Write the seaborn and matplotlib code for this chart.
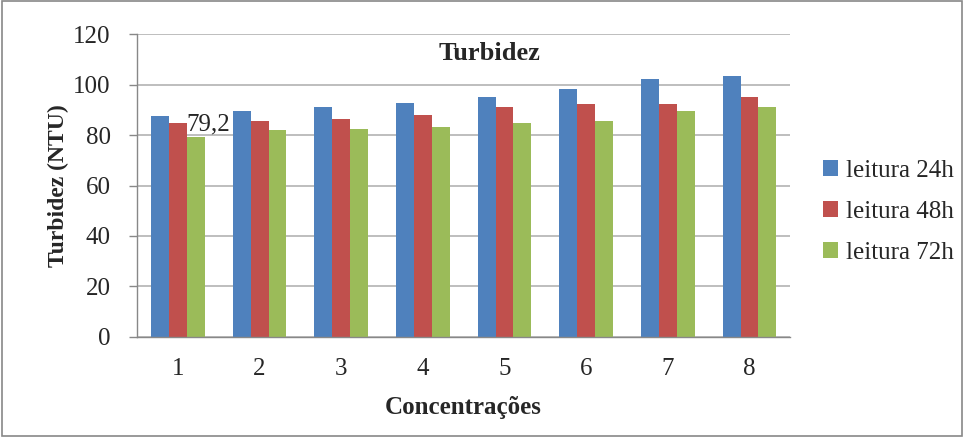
import numpy as np
import pandas as pd
import matplotlib
matplotlib.use('Agg')
import matplotlib.pyplot as plt
import seaborn as sns
from matplotlib.patches import Rectangle

# --- Data ---
concentracoes = ['1', '2', '3', '4', '5', '6', '7', '8']
leitura_24h = [87.5, 89.5, 91.2, 92.7, 95.0, 98.2, 102.1, 103.4]
leitura_48h = [84.7, 85.5, 86.3, 87.8, 91.0, 92.3, 92.3, 95.0]
leitura_72h = [79.2, 82.0, 82.3, 83.0, 84.6, 85.4, 89.4, 91.0]
series_names = ['leitura 24h', 'leitura 48h', 'leitura 72h']
colors = ['#4F81BD', '#C0504D', '#9BBB59']

df = pd.DataFrame({
    'Concentrações': concentracoes * 3,
    'valor': leitura_24h + leitura_48h + leitura_72h,
    'serie': [s for s in series_names for _ in concentracoes],
})

sns.set_style('white')
plt.rcParams['font.family'] = ['Liberation Serif', 'DejaVu Serif']

fig = plt.figure(figsize=(9.65, 4.37), dpi=100)
ax = fig.add_axes([0.142, 0.229, 0.677, 0.693])

sns.barplot(data=df, x='Concentrações', y='valor', hue='serie',
            palette=colors, width=0.66, saturation=1, linewidth=0,
            ax=ax, legend=True)

ax.set_ylim(0, 120)
ax.set_xlim(-0.5, len(concentracoes) - 0.5)
ax.set_yticks(np.arange(0, 121, 20))
ax.yaxis.grid(True, color='#b3b3b3', linewidth=1.2)
ax.set_axisbelow(True)

# ticks: labels centred, tick marks on category edges
ax.tick_params(axis='x', which='major', length=0, labelsize=18, pad=15)
ax.set_xticks(np.arange(-0.5, len(concentracoes)), minor=True)
ax.tick_params(axis='x', which='minor', length=6, color='#888888', width=1)
ax.tick_params(axis='y', which='major', length=6, color='#888888', width=1,
               labelsize=18, pad=13, left=True)

for side in ['top', 'right']:
    ax.spines[side].set_visible(False)
for side in ['left', 'bottom']:
    ax.spines[side].set_color('#888888')
    ax.spines[side].set_linewidth(1)

ax.set_xlabel('Concentrações', fontsize=18, fontweight='bold', labelpad=12)
ax.set_ylabel('Turbidez (NTU)', fontsize=17, fontweight='bold', labelpad=3)
ax.text(0.54, 0.935, 'Turbidez', transform=ax.transAxes, ha='center', va='center',
        fontsize=19, fontweight='bold')

# data label on the first 72h bar
green_bar = ax.containers[2][0]
ax.text(green_bar.get_x(), green_bar.get_height() + 0.5, '79,2',
        ha='left', va='bottom', fontsize=18)

handles, labels = ax.get_legend_handles_labels()
ax.legend(handles, labels, loc='center left', bbox_to_anchor=(0.83, 0.515),
          bbox_transform=fig.transFigure, frameon=False, fontsize=18,
          handlelength=0.6, handleheight=0.6, handletextpad=0.3, labelspacing=0.75)

fig.patches.append(Rectangle((0.002, 0.003), 0.995, 0.994, transform=fig.transFigure,
                             fill=False, edgecolor='#888888', linewidth=1.2))

fig.savefig('out.png', dpi=100)
